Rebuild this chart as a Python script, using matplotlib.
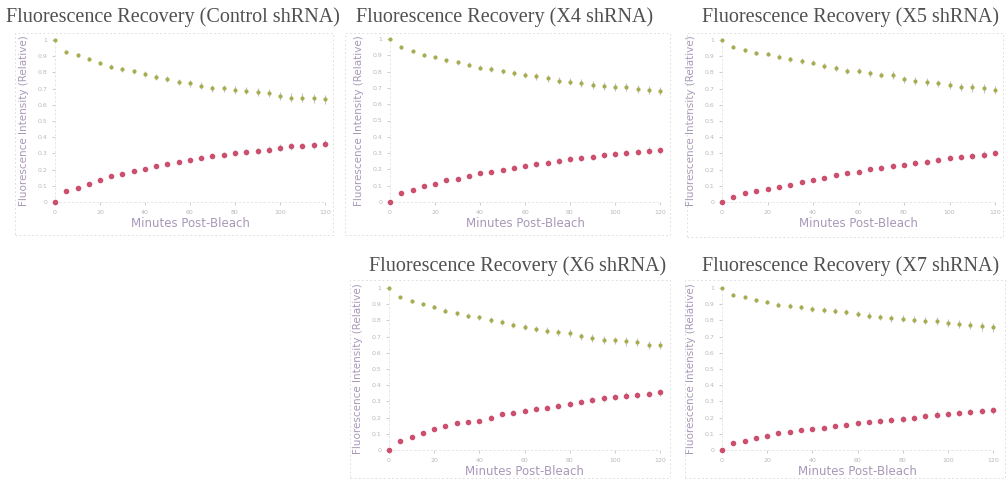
import numpy as np
import matplotlib
matplotlib.use("Agg")
import matplotlib.pyplot as plt
from matplotlib.patches import Rectangle

minutes = list(range(0, 125, 5))

titles = ["Fluorescence Recovery (Control shRNA)",
          "Fluorescence Recovery (X4 shRNA)",
          "Fluorescence Recovery (X5 shRNA)",
          "Fluorescence Recovery (X6 shRNA)",
          "Fluorescence Recovery (X7 shRNA)"]

# bleached region fluorescence (decaying, green)
ctrl_green = [1.0, 0.928, 0.907, 0.880, 0.860, 0.835, 0.819, 0.808, 0.790, 0.773, 0.757, 0.742, 0.732,
              0.718, 0.701, 0.701, 0.691, 0.687, 0.680, 0.674, 0.654, 0.645, 0.645, 0.639, 0.633]
x4_green = [1.0, 0.949, 0.924, 0.903, 0.889, 0.869, 0.856, 0.842, 0.825, 0.817, 0.801, 0.791, 0.780,
            0.770, 0.760, 0.745, 0.739, 0.729, 0.719, 0.713, 0.704, 0.704, 0.692, 0.688, 0.682]
x5_green = [1.0, 0.959, 0.938, 0.922, 0.911, 0.897, 0.880, 0.870, 0.860, 0.839, 0.829, 0.810, 0.808,
            0.794, 0.784, 0.784, 0.757, 0.746, 0.742, 0.732, 0.722, 0.711, 0.707, 0.701, 0.691]
x6_green = [1.0, 0.945, 0.918, 0.903, 0.882, 0.860, 0.845, 0.829, 0.819, 0.804, 0.788, 0.773, 0.759,
            0.746, 0.736, 0.726, 0.722, 0.701, 0.691, 0.680, 0.676, 0.670, 0.664, 0.649, 0.649]
x7_green = [1.0, 0.959, 0.944, 0.928, 0.913, 0.897, 0.891, 0.882, 0.870, 0.866, 0.856, 0.852, 0.841,
            0.829, 0.821, 0.814, 0.810, 0.804, 0.798, 0.794, 0.784, 0.779, 0.773, 0.763, 0.757]

# recovery (rising, red)
ctrl_red = [0.0, 0.066, 0.087, 0.113, 0.134, 0.161, 0.175, 0.190, 0.206, 0.221, 0.233, 0.247, 0.258,
            0.274, 0.287, 0.293, 0.303, 0.309, 0.315, 0.324, 0.336, 0.344, 0.346, 0.351, 0.361]
x4_red = [0.0, 0.055, 0.076, 0.097, 0.113, 0.133, 0.144, 0.158, 0.175, 0.185, 0.195, 0.211, 0.222,
          0.232, 0.240, 0.253, 0.263, 0.271, 0.277, 0.287, 0.296, 0.302, 0.306, 0.314, 0.318]
x5_red = [0.0, 0.031, 0.056, 0.068, 0.078, 0.093, 0.107, 0.122, 0.134, 0.148, 0.165, 0.179, 0.188,
          0.202, 0.210, 0.223, 0.231, 0.241, 0.249, 0.258, 0.272, 0.278, 0.285, 0.293, 0.303]
x6_red = [0.0, 0.058, 0.082, 0.103, 0.128, 0.148, 0.165, 0.171, 0.181, 0.200, 0.221, 0.231, 0.243,
          0.256, 0.262, 0.272, 0.285, 0.299, 0.309, 0.318, 0.326, 0.336, 0.340, 0.346, 0.355]
x7_red = [0.0, 0.041, 0.058, 0.072, 0.089, 0.107, 0.113, 0.124, 0.132, 0.138, 0.148, 0.157, 0.165,
          0.173, 0.179, 0.186, 0.192, 0.200, 0.210, 0.219, 0.223, 0.227, 0.233, 0.241, 0.245]

# rough error bar sizes read from the whiskers
green_err = [0.0, 0.008, 0.010, 0.012, 0.012, 0.014, 0.015, 0.016, 0.017, 0.018, 0.018, 0.019, 0.020,
             0.020, 0.021, 0.022, 0.022, 0.023, 0.023, 0.024, 0.024, 0.025, 0.025, 0.026, 0.026]
red_err = [0.0, 0.005, 0.006, 0.007, 0.008, 0.009, 0.010, 0.011, 0.012, 0.013, 0.013, 0.014, 0.015,
           0.015, 0.016, 0.017, 0.017, 0.018, 0.018, 0.019, 0.019, 0.020, 0.020, 0.021, 0.021]

greens = [ctrl_green, x4_green, x5_green, x6_green, x7_green]
reds = [ctrl_red, x4_red, x5_red, x6_red, x7_red]

W, H = 1008, 479
# pixel boxes: plot area (left, right, top, bottom), outer frame, title x/y
plot_px = [(55, 325, 40, 202), (390, 660, 39, 202), (722, 995, 40, 202),
           (389, 660, 288, 450), (722, 993, 288, 450)]
frame_px = [(15, 333, 33, 235), (345, 670, 33, 235), (687, 1003, 33, 237),
            (350, 670, 280, 478), (685, 1005, 280, 478)]
title_px = [(173, 17), (505, 17), (850, 17), (518, 266), (851, 266)]

fig = plt.figure(figsize=(W / 100, H / 100), dpi=100)
fig.patch.set_facecolor("white")

lab_col = "#a898b8"
tick_col = "#b8b8b8"

for i in range(5):
    l, r, t, b = plot_px[i]
    ax = fig.add_axes([l / W, 1 - b / H, (r - l) / W, (b - t) / H])
    ax.set_xlim(0, 120)
    ax.set_ylim(0, 1)
    ax.errorbar(minutes, greens[i], yerr=green_err, fmt="o", ms=2.0, color="#a8ac50",
                ecolor="#c4c4c4", elinewidth=0.8, capsize=0, clip_on=False, zorder=3)
    ax.errorbar(minutes, reds[i], yerr=red_err, fmt="o", ms=3.0, color="#cc4f6e",
                ecolor="#c4c4c4", elinewidth=0.8, capsize=0, clip_on=False, zorder=3)
    ax.set_xticks(range(0, 121, 20))
    ax.set_yticks(np.arange(0, 1.01, 0.1))
    ax.set_yticklabels(["0"] + ["%.1f" % v for v in np.arange(0.1, 1.0, 0.1)] + ["1"])
    ax.tick_params(labelsize=4.5, colors=tick_col, length=2, width=0.5)
    for s in ["top", "right"]:
        ax.spines[s].set_visible(False)
    for s in ["left", "bottom"]:
        ax.spines[s].set_color("#e4e4e4")
        ax.spines[s].set_linewidth(0.6)
        ax.spines[s].set_linestyle((0, (2, 3)))
    ax.set_xlabel("Minutes Post-Bleach", fontsize=8.5, color=lab_col, labelpad=2)
    ax.set_ylabel("Fluorescence Intensity (Relative)", fontsize=7.5, color=lab_col, labelpad=6)
    ax.patch.set_alpha(0)

    fl, fr, ft, fb = frame_px[i]
    fig.patches.append(Rectangle((fl / W, 1 - fb / H), (fr - fl) / W, (fb - ft) / H,
                                 transform=fig.transFigure, fill=False, ec="#d8d8d8",
                                 lw=0.6, ls=(0, (2, 3))))
    tx, ty = title_px[i]
    fig.text(tx / W, 1 - ty / H, titles[i], ha="center", va="center",
             fontsize=14.5, family="Liberation Serif", color="#505050")

fig.savefig("out.png", dpi=100, facecolor="white")
